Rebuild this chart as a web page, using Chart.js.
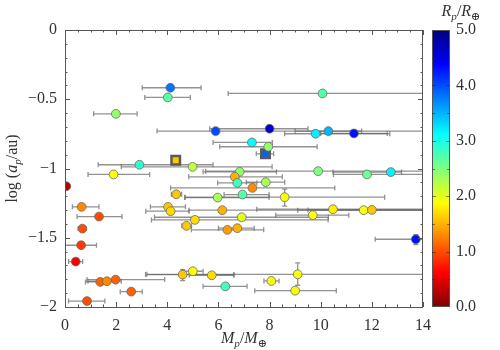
<!DOCTYPE html>
<html>
<head>
<meta charset="utf-8">
<script src="https://cdn.jsdelivr.net/npm/chart.js@4.4.0/dist/chart.umd.min.js"></script>
<style>
  html, body { margin: 0; padding: 0; background: #fff; }
  #wrap { width: 500px; height: 350px; }
</style>
</head>
<body>
<div id="wrap"><canvas id="chart"></canvas></div>
<script>
// planet mass (Earth masses), log semi-major axis, radius (Earth radii)
const mass   = [4.12, 4.02, 10.07, 1.99, 8.0, 5.89, 9.80, 10.3, 11.3, 7.31, 7.95, 2.91, 4.99, 1.90, 6.83, 9.9, 12.74, 11.81, 6.64, 0.05,
                6.74, 7.85, 7.33, 4.35, 5.97, 6.94, 8.59, 0.65, 4.03, 4.13, 6.15, 10.48, 11.68, 12.0, 1.33, 9.69, 5.08, 6.91, 0.68, 4.75,
                6.35, 6.74, 0.63, 13.72, 0.42, 5.0, 4.6, 5.74, 9.1, 1.98, 1.38, 1.64, 8.07, 6.27, 2.59, 9.0, 0.86];
const logA   = [-0.417, -0.487, -0.458, -0.605, -0.713, -0.73, -0.749, -0.73, -0.747, -0.812, -0.843, -0.973, -0.988, -1.043, -1.024, -1.019, -1.026, -1.043, -1.06, -1.128,
                -1.104, -1.099, -1.14, -1.186, -1.21, -1.188, -1.207, -1.277, -1.277, -1.308, -1.301, -1.294, -1.301, -1.299, -1.347, -1.337, -1.371, -1.352, -1.434, -1.414,
                -1.443, -1.431, -1.554, -1.511, -1.672, -1.742, -1.766, -1.771, -1.764, -1.802, -1.819, -1.814, -1.812, -1.851, -1.889, -1.882, -1.957];
const radius = [3.8, 2.7, 2.7, 2.4, 4.6, 4.0, 3.2, 3.5, 4.3, 3.1, 2.4, 2.9, 2.2, 1.9, 2.4, 2.5, 3.2, 2.6, 1.5, 0.3,
                2.8, 2.3, 1.3, 1.6, 2.3, 2.7, 1.9, 1.3, 1.6, 1.7, 1.5, 1.8, 1.9, 1.6, 1.0, 1.9, 1.7, 2.0, 1.0, 1.6,
                1.4, 1.5, 0.9, 4.3, 0.6, 1.9, 1.6, 1.7, 1.9, 1.1, 1.1, 1.3, 1.9, 2.8, 1.1, 1.9, 1.0];
// mass error bar bounds (null = no bar)
const massLow  = [3.02, 3.12, 6.38, 1.12, 5.66, 3.6, 8.59, 9.0, 10.0, 5.79, 6.05, 1.30, 2.2, 0.9, 5.4, 5.5, 10.48, 10.5, 4.84, null,
                  5.97, 7.09, 4.13, 4.16, 4.68, 6.22, 4.7, 0.29, 3.34, 3.16, 4.85, 7.5, 9.1, 9.5, 0.47, 8.24, 3.38, 3.5, 0.52, 4.57,
                  4.94, 6.0, 0.0, 12.13, 0.14, 4.59, 3.15, 4.86, 3.2, 0.86, 0.8, 0.9, 7.78, 5.4, 2.16, 7.42, 0.14];
const massHigh = [5.32, 4.90, 15, 2.82, 9.5, 15, 12.7, 11.6, 12.6, 8.11, 9.86, 5.79, 8.1, 3.31, 8.27, 15, 13.16, 15, 8.5, null,
                  7.5, 8.59, 10.55, 4.56, 7.98, 7.98, 12.5, 1.33, 4.71, 4.85, 15, 15, 15, 15, 2.23, 11.1, 10.29, 10.3, 0.82, 4.95,
                  7.77, 7.4, 1.23, 15, 0.69, 5.4, 6.6, 6.61, 15, 3.9, 2.0, 2.2, 8.37, 7.12, 3.02, 10.61, 1.56];
// log a error bar bounds (only a few planets)
const logALow  = [null, null, null, null, null, null, null, null, null, null, null, null, null, null, null, null, null, null, null, null,
                  null, null, null, null, null, null, -1.272, null, null, null, null, null, null, null, null, null, null, null, null, null,
                  null, null, null, -1.549, null, null, -1.81, null, -1.843, null, null, null, null, null, null, null, null];
const logAHigh = [null, null, null, null, null, null, null, null, null, null, null, null, null, null, null, null, null, null, null, null,
                  null, null, null, null, null, null, -1.149, null, null, null, null, null, null, null, null, null, null, null, null, null,
                  null, null, null, -1.477, null, null, -1.73, null, -1.682, null, null, null, null, null, null, null, null];

// highlighted planets (square markers)
const sqMass = [7.84, 4.33];
const sqLogA = [-0.894, -0.94];
const sqRadius = [3.9, 1.6];
const sqMassLow = [7.48, null];
const sqMassHigh = [8.16, null];

const xTicks = [0, 2, 4, 6, 8, 10, 12, 14];
const yTicks = [0, -0.5, -1, -1.5, -2];
const cbarTicks = [0, 1, 2, 3, 4, 5];

const FONT = '"Liberation Serif", "DejaVu Serif", serif';

function jet(v) {
    const t = 1 - v / 5;
    const f = k => Math.round(255 * Math.max(0, Math.min(1, 1.5 - Math.abs(4 * t - k))));
    return `rgb(${f(3)},${f(2)},${f(1)})`;
}

function fmt(v) {
    return v < 0 ? '\u2212' + Math.abs(v) : String(v);
}

// draw text pieces like "M_p/M_⊕"
function mathText(ctx, parts, x, y, size) {
    let w = 0;
    const widths = parts.map(p => {
        const s = p.sub ? size * 0.7 : size;
        ctx.font = (p.it ? 'italic ' : '') + s + 'px ' + FONT;
        const m = ctx.measureText(p.t).width;
        w += m;
        return m;
    });
    let cx = x - w / 2;
    parts.forEach((p, i) => {
        const s = p.sub ? size * 0.7 : size;
        ctx.font = (p.it ? 'italic ' : '') + s + 'px ' + FONT;
        ctx.fillText(p.t, cx, y + (p.sub ? size * 0.25 : 0));
        cx += widths[i];
    });
}

const errorBars = {
    id: 'errorBars',
    beforeDatasetsDraw(chart) {
        const { ctx, chartArea: a, scales: { x, y } } = chart;
        ctx.save();
        ctx.beginPath();
        ctx.rect(a.left, a.top, a.right - a.left, a.bottom - a.top);
        ctx.clip();
        ctx.strokeStyle = 'rgba(100,100,100,0.7)';
        ctx.lineWidth = 1.3;
        const bars = (xs, ys, lo, hi, ylo, yhi) => {
            xs.forEach((m, i) => {
                const py = y.getPixelForValue(ys[i]);
                const px = x.getPixelForValue(m);
                if (lo[i] !== null) {
                    const x1 = x.getPixelForValue(lo[i]), x2 = x.getPixelForValue(hi[i]);
                    ctx.beginPath();
                    ctx.moveTo(x1, py); ctx.lineTo(x2, py);
                    ctx.moveTo(x1, py - 2.5); ctx.lineTo(x1, py + 2.5);
                    ctx.moveTo(x2, py - 2.5); ctx.lineTo(x2, py + 2.5);
                    ctx.stroke();
                }
                if (ylo && ylo[i] !== null) {
                    const y1 = y.getPixelForValue(ylo[i]), y2 = y.getPixelForValue(yhi[i]);
                    ctx.beginPath();
                    ctx.moveTo(px, y1); ctx.lineTo(px, y2);
                    ctx.moveTo(px - 2.5, y1); ctx.lineTo(px + 2.5, y1);
                    ctx.moveTo(px - 2.5, y2); ctx.lineTo(px + 2.5, y2);
                    ctx.stroke();
                }
            });
        };
        bars(mass, logA, massLow, massHigh, logALow, logAHigh);
        bars(sqMass, sqLogA, sqMassLow, sqMassHigh, null, null);
        ctx.restore();
    }
};

const frame = {
    id: 'frame',
    afterDraw(chart) {
        const { ctx, chartArea: a, scales: { x, y } } = chart;
        ctx.save();
        ctx.strokeStyle = '#555';
        ctx.lineWidth = 1;
        ctx.strokeRect(a.left + 0.5, a.top + 0.5, a.right - a.left - 1, a.bottom - a.top);
        // inward ticks on all four sides
        ctx.beginPath();
        for (let v = 0; v <= 14.001; v += 0.5) {
            const px = Math.round(x.getPixelForValue(v)) + 0.5;
            const len = Math.abs(v % 2) < 0.01 ? 5 : 2.5;
            ctx.moveTo(px, a.bottom); ctx.lineTo(px, a.bottom - len);
            ctx.moveTo(px, a.top); ctx.lineTo(px, a.top + len);
        }
        for (let k = 0; k <= 20; k++) {
            const py = Math.round(y.getPixelForValue(-k / 10)) + 0.5;
            const len = k % 5 === 0 ? 5 : 2.5;
            ctx.moveTo(a.left, py); ctx.lineTo(a.left + len, py);
            ctx.moveTo(a.right, py); ctx.lineTo(a.right - len, py);
        }
        ctx.stroke();

        // colour bar
        const bx = 432, bw = 18, top = a.top, bot = a.bottom;
        const g = ctx.createLinearGradient(0, bot, 0, top);
        for (let i = 0; i <= 40; i++) g.addColorStop(i / 40, jet(5 * i / 40));
        ctx.fillStyle = g;
        ctx.fillRect(bx, top, bw, bot - top);
        ctx.strokeStyle = '#555';
        ctx.strokeRect(bx + 0.5, top + 0.5, bw - 1, bot - top - 1);
        ctx.beginPath();
        for (let k = 1; k < 10; k++) {
            const ty = Math.round(bot - (bot - top) * k / 10) + 0.5;
            const len = k % 2 === 0 ? 4 : 3;
            ctx.moveTo(bx, ty); ctx.lineTo(bx + len, ty);
            ctx.moveTo(bx + bw, ty); ctx.lineTo(bx + bw - len, ty);
        }
        ctx.strokeStyle = 'rgba(40,40,40,0.55)';
        ctx.stroke();
        ctx.fillStyle = '#333';
        ctx.textBaseline = 'middle';
        ctx.textAlign = 'left';
        ctx.font = '16px ' + FONT;
        cbarTicks.forEach(v => {
            const py = bot - (bot - top) * v / 5;
            ctx.fillText(v.toFixed(1), bx + bw + 6, py);
        });

        // axis titles
        ctx.fillStyle = '#333';
        ctx.textAlign = 'left';
        ctx.textBaseline = 'alphabetic';
        mathText(ctx, [{ t: 'R', it: true }, { t: 'p', it: true, sub: true }, { t: '/', it: false }, { t: 'R', it: true }, { t: '\u2295', sub: true }], 461, 16, 16);
        mathText(ctx, [{ t: 'M', it: true }, { t: 'p', it: true, sub: true }, { t: '/', it: false }, { t: 'M', it: true }, { t: '\u2295', sub: true }], (a.left + a.right) / 2, 343, 16);
        ctx.translate(17, (a.top + a.bottom) / 2);
        ctx.rotate(-Math.PI / 2);
        mathText(ctx, [{ t: 'log (', it: false }, { t: 'a', it: true }, { t: 'p', it: true, sub: true }, { t: '/au)', it: false }], 0, 0, 16);
        ctx.restore();
    }
};

const ctx = document.getElementById('chart').getContext('2d');
new Chart(ctx, {
    type: 'scatter',
    data: {
        datasets: [
            {
                label: 'planets',
                data: mass.map((m, i) => ({ x: m, y: logA[i] })),
                backgroundColor: radius.map(jet),
                borderColor: '#6a6a6a',
                borderWidth: 0.8,
                pointRadius: 4.4,
                pointHoverRadius: 4.4
            },
            {
                label: 'highlighted',
                data: sqMass.map((m, i) => ({ x: m, y: sqLogA[i] })),
                backgroundColor: sqRadius.map(jet),
                borderColor: '#5a5a5a',
                borderWidth: 2.5,
                pointStyle: 'rect',
                pointRadius: 6,
                pointHoverRadius: 6
            }
        ]
    },
    options: {
        responsive: true,
        maintainAspectRatio: false,
        animation: false,
        layout: { padding: { left: 0, top: 30, right: 77, bottom: 0 } },
        plugins: { legend: { display: false }, tooltip: { enabled: false } },
        scales: {
            x: {
                type: 'linear', min: 0, max: 14,
                afterBuildTicks: s => { s.ticks = xTicks.map(v => ({ value: v })); },
                afterFit: s => { s.height = 43; },
                grid: { display: false, drawTicks: false },
                border: { display: false },
                ticks: { padding: 9, color: '#333', font: { family: FONT, size: 16 }, callback: v => fmt(v) }
            },
            y: {
                type: 'linear', min: -2, max: 0,
                afterBuildTicks: s => { s.ticks = yTicks.map(v => ({ value: v })); },
                afterFit: s => { s.width = 65; },
                grid: { display: false, drawTicks: false },
                border: { display: false },
                ticks: { padding: 8, color: '#333', font: { family: FONT, size: 16 }, callback: v => fmt(v) }
            }
        }
    },
    plugins: [errorBars, frame]
});
</script>
</body>
</html>
